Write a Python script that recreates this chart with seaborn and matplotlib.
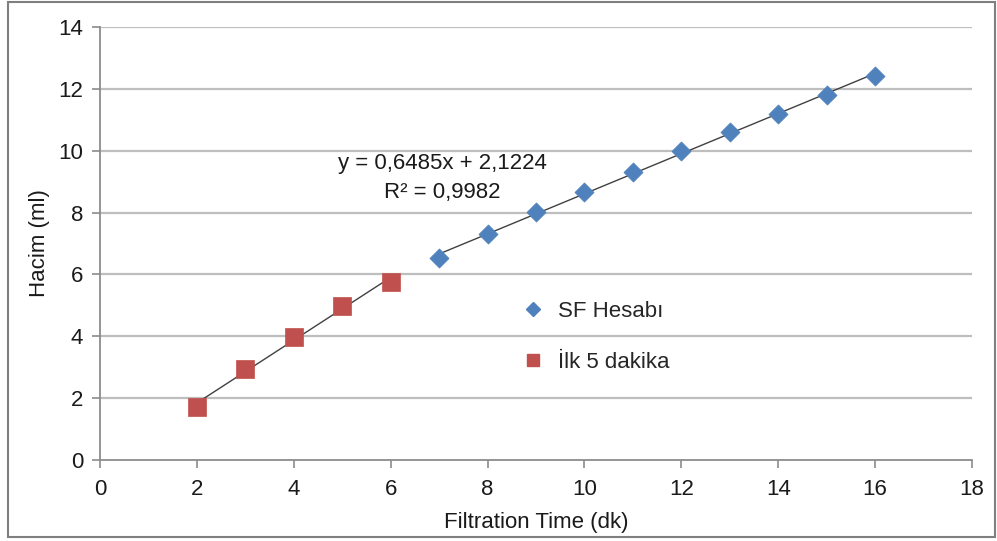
import numpy as np
import pandas as pd
import matplotlib
matplotlib.use("Agg")
import matplotlib.pyplot as plt
from matplotlib.lines import Line2D
from matplotlib.patches import Rectangle
import seaborn as sns

# Filtrate volume vs. filtration time
sf_time = [7, 8, 9, 10, 11, 12, 13, 14, 15, 16]
sf_volume = [6.53, 7.31, 8.02, 8.66, 9.31, 9.99, 10.60, 11.19, 11.80, 12.41]
first_time = [2, 3, 4, 5, 6]
first_volume = [1.70, 2.95, 3.98, 4.98, 5.76]

# Trend line reported for the SF series
sf_slope = 0.6485
sf_intercept = 2.1224
sf_r2 = 0.9982

series_names = ["SF Hesabı", "İlk 5 dakika"]
x_ticks = [0, 2, 4, 6, 8, 10, 12, 14, 16, 18]
y_ticks = [0, 2, 4, 6, 8, 10, 12, 14]

BLUE = "#4F81BD"
RED = "#C0504D"
GRID = "#BEBEBE"
AXIS = "#8C8C8C"
TEXT = "#1a1a1a"
FS = 16

sns.set_theme(style="white")
plt.rcParams["font.family"] = ["Liberation Sans", "DejaVu Sans"]

df_sf = pd.DataFrame({"t": sf_time, "v": sf_volume})
df_first = pd.DataFrame({"t": first_time, "v": first_volume})

fig = plt.figure(figsize=(9.97, 5.41), dpi=100)
ax = fig.add_axes([100 / 997, 1 - 460 / 541, 872 / 997, 433 / 541])

# horizontal gridlines
for yv in y_ticks[1:]:
    ax.axhline(yv, color=GRID, lw=1.6, zorder=0)

# trend lines
sf_line_x = np.array([sf_time[0], sf_time[-1]], dtype=float)
sns.lineplot(x=sf_line_x, y=sf_slope * sf_line_x + sf_intercept, ax=ax,
             color="#404040", lw=1.0, zorder=2)
sns.regplot(data=df_first, x="t", y="v", ax=ax, scatter=False, ci=None,
            truncate=True, line_kws=dict(color="#404040", lw=1.0, zorder=2))

# data points
sns.scatterplot(data=df_sf, x="t", y="v", ax=ax, marker="D", s=95,
                color=BLUE, edgecolor=BLUE, linewidth=0.5, zorder=3)
sns.scatterplot(data=df_first, x="t", y="v", ax=ax, marker="s", s=170,
                color=RED, edgecolor=RED, linewidth=0.5, zorder=3)

ax.set_xlim(0, 18)
ax.set_ylim(0, 14)
ax.set_xticks(x_ticks)
ax.set_yticks(y_ticks)
ax.tick_params(axis="both", labelsize=FS, colors=TEXT, length=6,
               width=1.2, pad=6)
ax.tick_params(axis="x", direction="out", color=AXIS, bottom=True, pad=8)
ax.tick_params(axis="y", direction="out", color=AXIS, left=True)
for side in ["top", "right"]:
    ax.spines[side].set_visible(False)
for side in ["left", "bottom"]:
    ax.spines[side].set_color(AXIS)
    ax.spines[side].set_linewidth(1.3)

ax.set_xlabel("Filtration Time (dk)", fontsize=FS, color=TEXT, labelpad=8)
ax.set_ylabel("Hacim (ml)", fontsize=FS, color=TEXT, labelpad=6)

eq = f"y = {sf_slope:.4f}x + {sf_intercept:.4f}".replace(".", ",")
r2 = f"R² = {sf_r2:.4f}".replace(".", ",")
ax.text(7.06, 9.6, eq, ha="center", va="center", fontsize=FS, color=TEXT)
ax.text(7.06, 8.66, r2, ha="center", va="center", fontsize=FS, color=TEXT)

handles = [
    Line2D([], [], marker="D", ls="none", color=BLUE, markersize=7),
    Line2D([], [], marker="s", ls="none", color=RED, markersize=8),
]
ax.legend(handles, series_names, loc="upper left",
          bbox_to_anchor=(0.484, 0.368), frameon=False, fontsize=FS,
          handlelength=1.0, handletextpad=0.6, labelspacing=1.35,
          borderpad=0, borderaxespad=0)

# outer chart border
fig.patches.append(Rectangle((8 / 997, 4 / 541), 987 / 997, 535 / 541,
                             transform=fig.transFigure, fill=False,
                             edgecolor="#7f7f7f", lw=1.5))

fig.savefig("out.png", dpi=100)
